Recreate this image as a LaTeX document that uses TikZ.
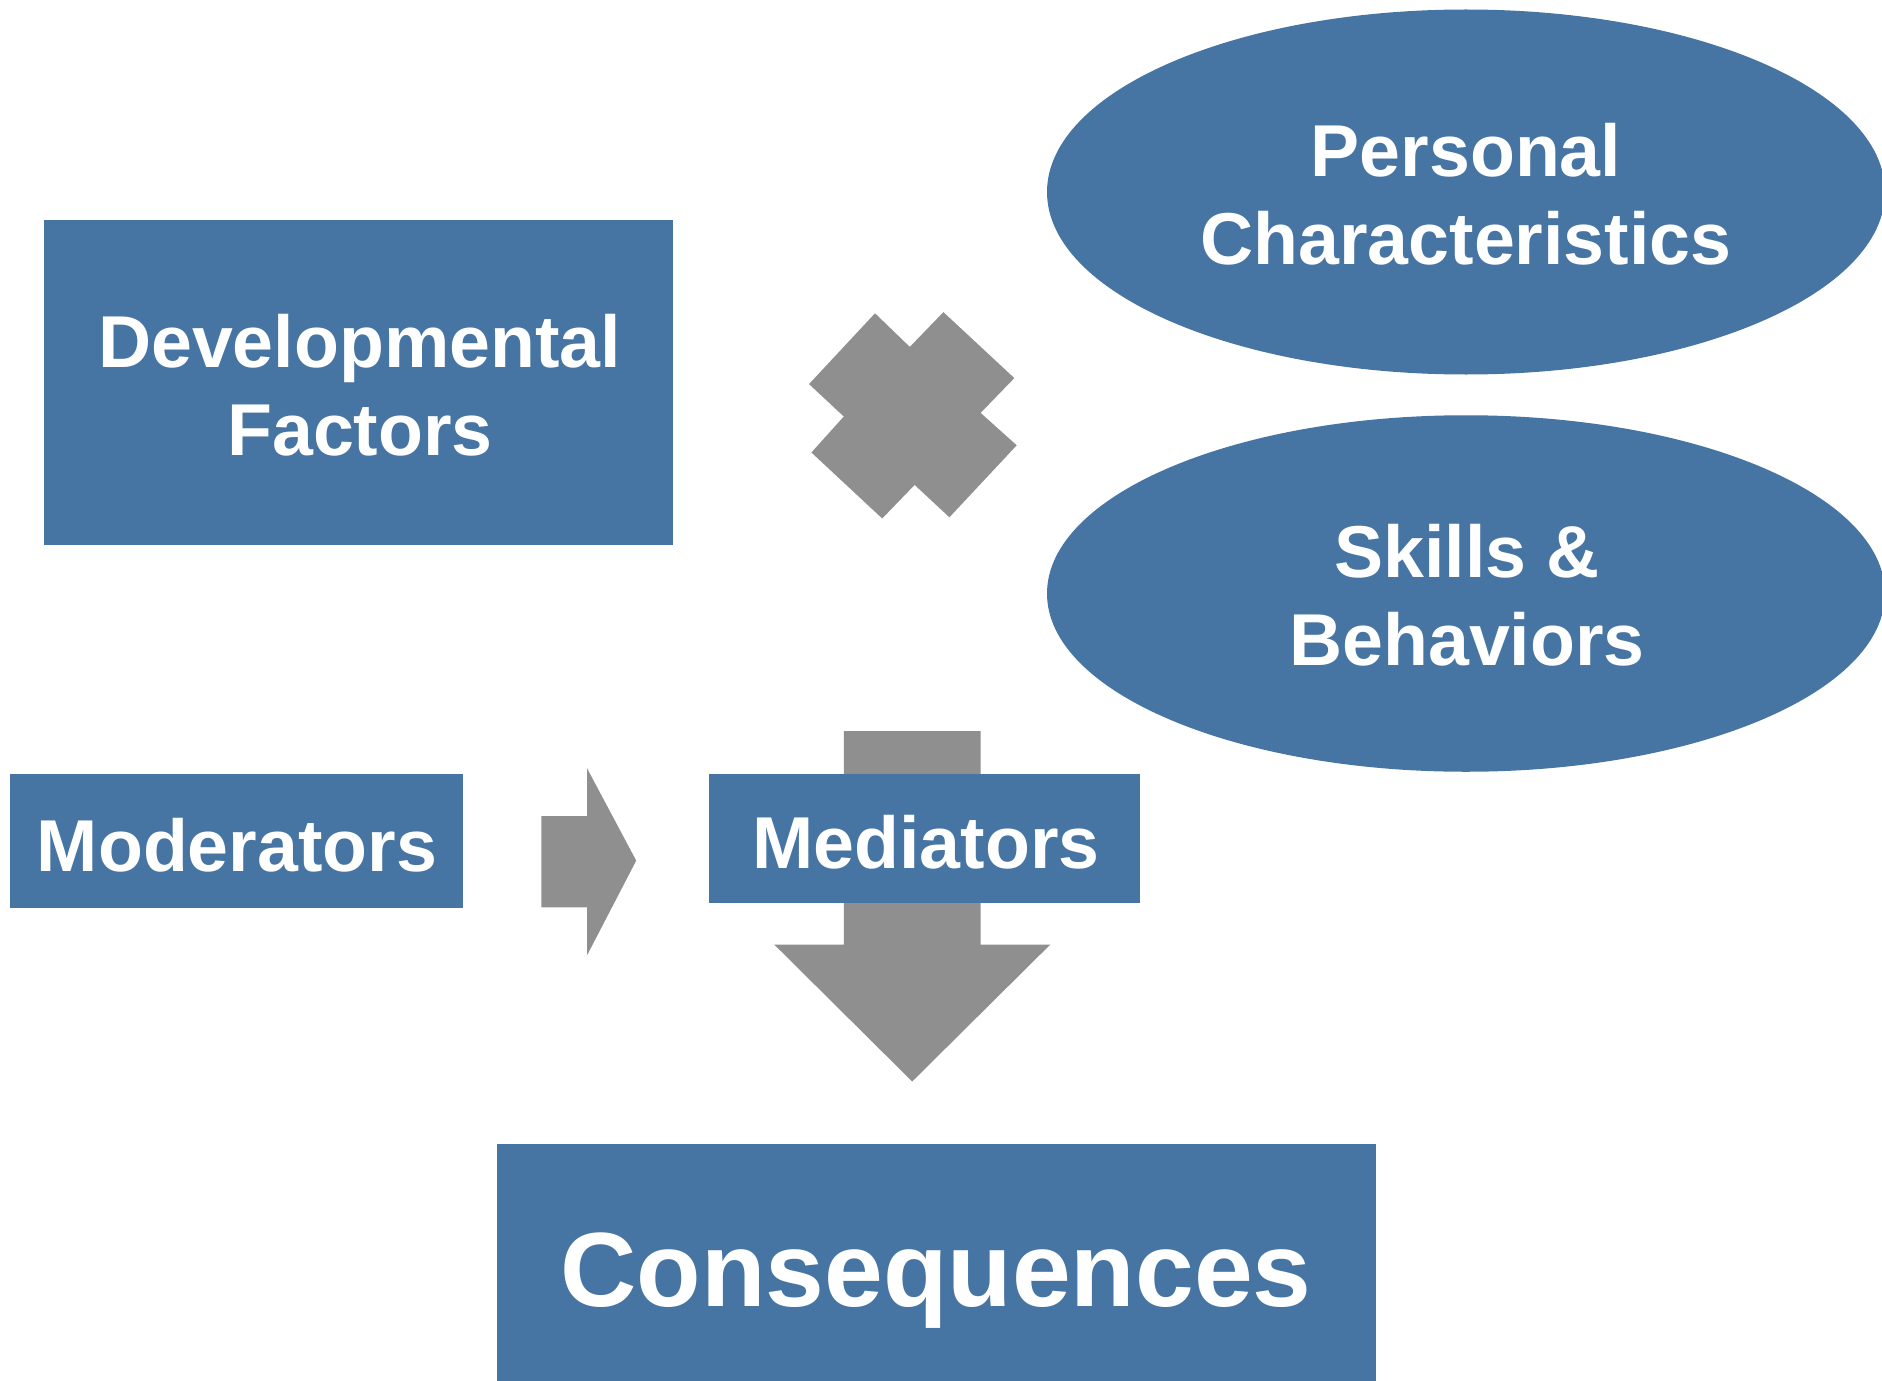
\documentclass[tikz,border=0pt]{standalone}
\usepackage{fontspec}
\setmainfont{Liberation Sans}
\usetikzlibrary{shapes.geometric}
\definecolor{boxblue}{RGB}{70,116,163}
\definecolor{arrowgray}{RGB}{143,143,143}
\begin{document}
\begin{tikzpicture}[x=0.5pt,y=-0.5pt,
  blockbox/.style={rectangle,fill=boxblue,draw=none,inner sep=0pt},
  ovalbox/.style={ellipse,fill=boxblue,draw=none,inner sep=0pt,minimum width=419pt},
  grayshape/.style={fill=arrowgray,draw=none},
  lbl/.style={text=white,font=\bfseries\fontsize{36.75}{44}\selectfont,anchor=base,inner sep=0pt},
  biglbl/.style={text=white,font=\bfseries\fontsize{52.8}{60}\selectfont,anchor=base,inner sep=0pt}]
\useasboundingbox (0,0) rectangle (1882,1380);
\clip (0,0) rectangle (1882,1380);
% boxes and ellipses
\node[blockbox,minimum width=314.5pt,minimum height=162.65pt] (devbox) at (358.9,382.35) {};
\node[ovalbox,minimum height=182.5pt] (pcoval) at (1466,192) {};
\node[ovalbox,minimum height=178.25pt] (sboval) at (1466,593.5) {};
\node[blockbox,minimum width=226.85pt,minimum height=66.65pt] (modbox) at (236.45,840.85) {};
% cross
\fill[grayshape] (875,313.3) -- (909.8,346.9) -- (943.4,312.1) -- (1014.3,378.1) -- (980.6,412.9) -- (1016.7,445.3) -- (949.4,517.3) -- (914.6,484.9) -- (882.2,518.5) -- (811.4,452.5) -- (843.8,416.5) -- (809,384.1) -- cycle;
% right arrow
\fill[grayshape] (541.3,816.2) -- (587,816.2) -- (587,768.2) -- (636.2,860.6) -- (587,955.4) -- (587,907.4) -- (541.3,907.4) -- cycle;
% down arrow
\fill[grayshape] (843.8,731) -- (980.6,731) -- (980.6,944.5) -- (1050.3,944.5) -- (912.2,1081.5) -- (774.2,944.5) -- (843.8,944.5) -- cycle;
\node[blockbox,minimum width=215.45pt,minimum height=64.2pt] (medbox) at (924.85,838.4) {};
\node[blockbox,minimum width=439.3pt,minimum height=125.55pt] (consbox) at (936.2,1269.45) {};
% labels
\node[lbl] (dev1) at (359.5,367.5) {Developmental};
\node[lbl] (dev2) at (360,455) {Factors};
\node[lbl] (pc1) at (1466,176.4) {Personal};
\node[lbl] (pc2) at (1466,264) {Characteristics};
\node[lbl] (sb1) at (1467,577.3) {Skills \&};
\node[lbl] (sb2) at (1467,665) {Behaviors};
\node[lbl] (mod) at (237,871) {Moderators};
\node[lbl] (med) at (926,868.5) {Mediators};
\node[biglbl] (cons) at (936,1306) {Consequences};
\end{tikzpicture}
\end{document}
